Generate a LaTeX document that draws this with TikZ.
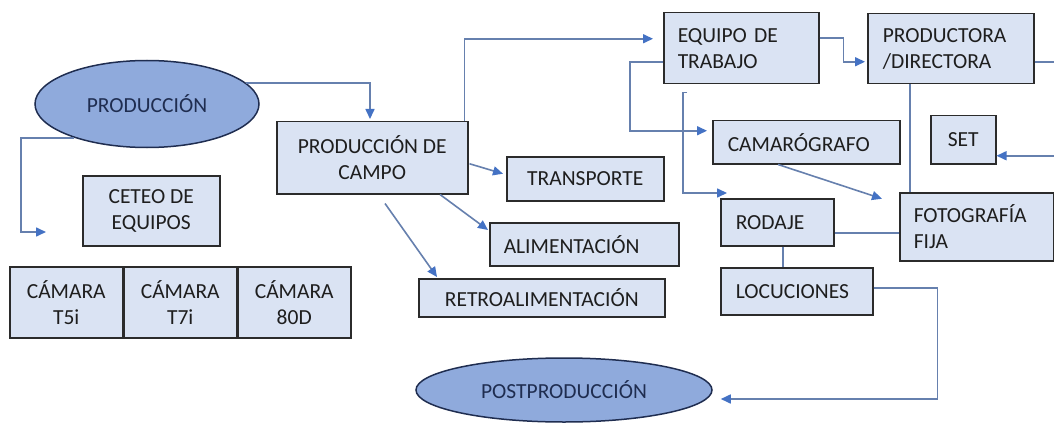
\documentclass[tikz,border=0pt]{standalone}
\usepackage{fontspec}
\setmainfont{Carlito}
\usetikzlibrary{arrows.meta,calc,shapes.geometric}
\definecolor{boxfill}{HTML}{DAE3F3}
\definecolor{ellfill}{HTML}{8FAADC}
\definecolor{linec}{HTML}{6680AE}
\definecolor{tipc}{HTML}{4472C4}
\definecolor{txt}{HTML}{1E1E1E}
\definecolor{etxt}{HTML}{1F2D50}
\definecolor{bord}{HTML}{2B2B2B}
\tikzset{
  bx/.style={draw=bord, fill=boxfill, line width=1.5pt, inner sep=0pt, anchor=north west, text=txt, font=\fontsize{21.5}{26}\selectfont},
  ell/.style={ellipse, draw=etxt, fill=ellfill, line width=1.5pt, inner sep=0pt, text=etxt, font=\fontsize{21.5}{26}\selectfont},
  conn/.style={draw=linec, line width=1.6pt, -{Triangle[length=10pt,width=9pt,color=tipc]}},
  ln/.style={draw=linec, line width=1.6pt},
}
\begin{document}
\begin{tikzpicture}[x=1pt,y=-1pt]
\useasboundingbox (0,0) rectangle (1054,425);
\fill[white] (0,0) rectangle (1054,425);
\clip (0,0) rectangle (1054,425);

\node[ell, minimum width=224pt, minimum height=87pt] (prod) at (147,104) {PRODUCCIÓN};
\node[ell, minimum width=296pt, minimum height=64pt] (post) at (564,390) {POSTPRODUCCIÓN};
\node[bx, minimum width=137pt, minimum height=70pt, align=center] (ceteo) at (82,175) {CETEO DE\\EQUIPOS};
\node[bx, minimum width=113pt, minimum height=71pt, align=center] (camA) at (9,266) {CÁMARA\\T5i};
\node[bx, minimum width=112pt, minimum height=71pt, align=center] (camB) at (camA.north east) {CÁMARA\\T7i};
\node[bx, minimum width=113pt, minimum height=71pt, align=center] (camC) at (camB.north east) {CÁMARA\\80D};
\node[bx, minimum width=191pt, minimum height=72pt, align=center] (pdc) at (276,121) {PRODUCCIÓN DE\\CAMPO};
\node[bx, minimum width=157pt, minimum height=44pt] (trans) at (506,156) {TRANSPORTE};
\node[bx, minimum height=43pt, text width=161pt, inner xsep=14pt, align=left] (alim) at (489,222) {ALIMENTACIÓN};
\node[bx, minimum width=246pt, minimum height=38pt] (retro) at (418,278) {RETROALIMENTACIÓN};
\node[bx, minimum height=71pt, text width=127pt, inner xsep=14pt, align=left] (equipo) at (663,12) {EQUIPO DE\\TRABAJO};
\node[bx, minimum height=70pt, text width=136pt, inner xsep=15pt, align=left] (productora) at (867,13) {PRODUCTORA\\/DIRECTORA};
\node[bx, minimum height=43pt, text width=157pt, inner xsep=15pt, align=left] (camar) at (712,120) {CAMARÓGRAFO};
\node[bx, minimum width=65pt, minimum height=48pt] (set) at (930,115) {SET};
\node[bx, minimum height=47pt, text width=83pt, inner xsep=15pt, align=left] (rodaje) at (720,198) {RODAJE};
\node[bx, minimum height=68pt, text width=126pt, inner xsep=14pt, align=left] (foto) at (899,192) {FOTOGRAFÍA\\FIJA};
\node[bx, minimum height=47pt, text width=122pt, inner xsep=15pt, align=left] (loc) at (720,267) {LOCUCIONES};

\draw[conn] (prod.12) -| ($(pdc.north west)+(94,-2)$);
\coordinate (freeA) at (46,232);
\draw[conn] (prod.205) -| ($(freeA)+(-25,0)$) -- (freeA);
\draw[conn] ($(pdc.north east)+(-4,0)$) |- ($(equipo.west)+(-10,-9.5)$);
\draw[conn] ($(pdc.east)+(1,6)$) -- ($(trans.west)+(-3,-5)$);
\draw[conn] ($(pdc.south west)+(164,0)$) -- ($(alim.north west)+(-1,8)$);
\draw[conn] ($(pdc.south west)+(109,9)$) -- ($(retro.north west)+(19,-1)$);
\draw[conn] ($(equipo.west)+(0,13.5)$) -- ++(-33,0) |- ($(camar.west)+(-5,-11.5)$);
\coordinate (eqb) at ($(equipo.south west)+(24,8)$);
\draw[conn] (eqb) -- ++(-4,0) |- ($(rodaje.north west)+(7,-5)$);
\draw[conn] ($(equipo.east)+(0,-10.5)$) -- ++(24,0) |- ($(productora.west)+(-2,13)$);
\draw[conn] ($(productora.east)+(0,13)$) -- ++(30,0) |- ($(set.east)+(0,16)$);
\draw[ln] ($(productora.south west)+(43,0)$) coordinate (pv) -- (pv |- foto.north);
\draw[conn] ($(camar.south west)+(66,0)$) -- ($(foto.west)+(-17,-28)$);
\draw[ln] ($(rodaje.east)+(0,10.5)$) coordinate (rf) -- (rf -| foto.west);
\draw[ln] ($(rodaje.south west)+(63,0)$) coordinate (rl) -- (rl |- loc.north);
\draw[conn] ($(loc.east)+(0,-3.5)$) -- ++(64,0) |- ($(post.east)+(8,9)$);
\end{tikzpicture}
\end{document}
